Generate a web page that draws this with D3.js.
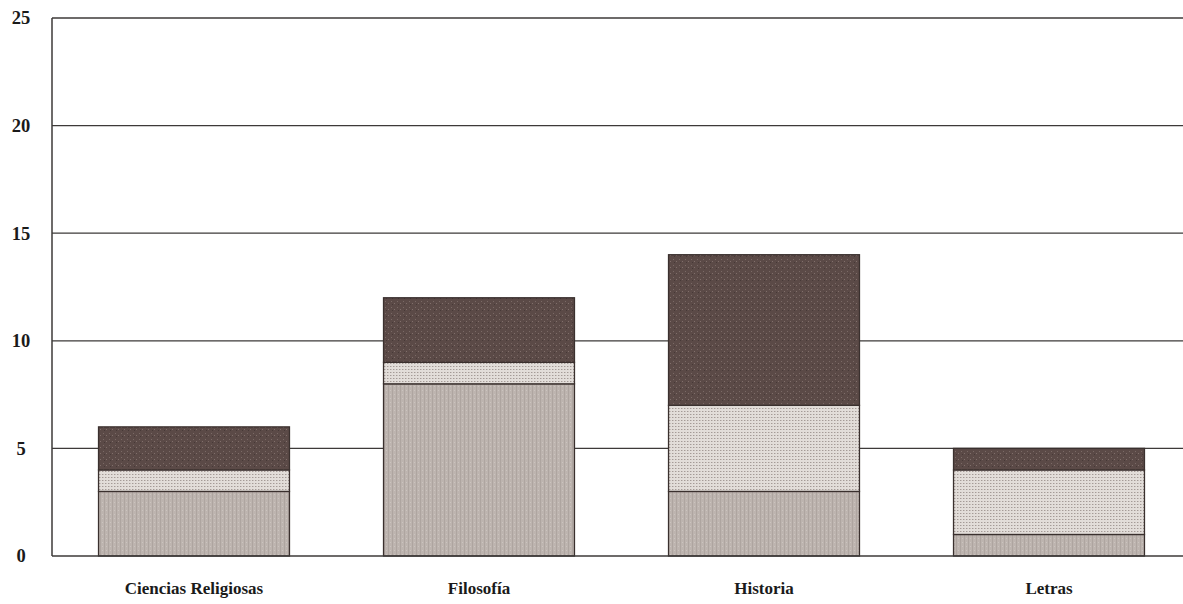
<!DOCTYPE html>
<html><head><meta charset="utf-8">
<script src="https://cdn.jsdelivr.net/npm/d3@7"></script>
<style>body{margin:0;background:#fff}svg{display:block}</style>
</head><body>
<svg id="c" width="1183" height="604"></svg>
<script>
const categories = ["Ciencias Religiosas", "Filosofía", "Historia", "Letras"];
const seriesBottom = [3, 8, 3, 1];
const seriesMiddle = [1, 1, 4, 3];
const seriesTop = [2, 3, 7, 1];
const yTicks = [0, 5, 10, 15, 20, 25];

(function () {
const svg = d3.select("#c");
const W = 1183;
const plotLeft = 52, plotTop = 18, plotBottom = 556;

const x = d3.scaleBand().domain(categories).range([51.5, 1191.5]).paddingInner(0.33).paddingOuter(0.165);
const y = d3.scaleLinear().domain([0, 25]).range([plotBottom, plotTop]);

const defs = svg.append("defs");
const pd = defs.append("pattern").attr("id","pDark").attr("patternUnits","userSpaceOnUse").attr("width",6).attr("height",6);
pd.append("rect").attr("width",6).attr("height",6).attr("fill","#5b4a47");
pd.append("rect").attr("x",1).attr("y",1).attr("width",1).attr("height",1).attr("fill","#7a6a66");
pd.append("rect").attr("x",4).attr("y",3).attr("width",1).attr("height",1).attr("fill","#806f6b");
pd.append("rect").attr("x",2).attr("y",4).attr("width",1).attr("height",1).attr("fill","#463937");
const pm = defs.append("pattern").attr("id","pMid").attr("patternUnits","userSpaceOnUse").attr("width",3).attr("height",3);
pm.append("rect").attr("width",3).attr("height",3).attr("fill","#e2ddd9");
pm.append("rect").attr("x",0).attr("y",0).attr("width",1).attr("height",1).attr("fill","#a49b97");
pm.append("rect").attr("x",1).attr("y",0).attr("width",1).attr("height",1).attr("fill","#c8c0bc");
const pb = defs.append("pattern").attr("id","pBot").attr("patternUnits","userSpaceOnUse").attr("width",4).attr("height",4);
pb.append("rect").attr("width",4).attr("height",4).attr("fill","#bdb4af");
pb.append("rect").attr("x",0).attr("y",0).attr("width",1).attr("height",4).attr("fill","#aea5a0");
pb.append("rect").attr("x",2).attr("y",2).attr("width",1).attr("height",1).attr("fill","#cbc4bf");

svg.append("g").selectAll("line").data(yTicks.filter(d => d > 0)).join("line")
  .attr("x1", plotLeft).attr("x2", W).attr("y1", d => y(d)).attr("y2", d => y(d))
  .attr("stroke", "#3d3a39").attr("stroke-width", 1.3);

svg.append("g").selectAll("text").data(yTicks).join("text")
  .attr("x", 21).attr("y", d => y(d)).attr("dy", "0.35em")
  .attr("text-anchor", "middle")
  .attr("font-family", "Liberation Serif, serif").attr("font-weight", "bold").attr("font-size", 18.5)
  .attr("fill", "#1a1a1a").text(d => d);

const stackData = categories.map((c, i) => ({cat: c, bottom: seriesBottom[i], middle: seriesMiddle[i], top: seriesTop[i]}));
const layers = d3.stack().keys(["bottom", "middle", "top"])(stackData);
const fills = {bottom: "url(#pBot)", middle: "url(#pMid)", top: "url(#pDark)"};
layers.forEach(layer => {
  svg.append("g").selectAll("rect").data(layer).join("rect")
    .attr("x", d => x(d.data.cat)).attr("width", x.bandwidth())
    .attr("y", d => y(d[1])).attr("height", d => y(d[0]) - y(d[1]))
    .attr("fill", fills[layer.key])
    .attr("stroke", "#3a302e").attr("stroke-width", 1.3);
});

svg.append("line").attr("x1", plotLeft).attr("x2", plotLeft).attr("y1", plotTop).attr("y2", plotBottom)
  .attr("stroke", "#3d3a39").attr("stroke-width", 1.5);
svg.append("line").attr("x1", plotLeft).attr("x2", W).attr("y1", plotBottom).attr("y2", plotBottom)
  .attr("stroke", "#3d3a39").attr("stroke-width", 1.5);

svg.append("g").selectAll("text").data(categories).join("text")
  .attr("x", d => x(d) + x.bandwidth() / 2).attr("y", 594)
  .attr("text-anchor", "middle")
  .attr("font-family", "Liberation Serif, serif").attr("font-weight", "bold").attr("font-size", 17)
  .attr("fill", "#1a1a1a").text(d => d);
})();
</script>
</body></html>
